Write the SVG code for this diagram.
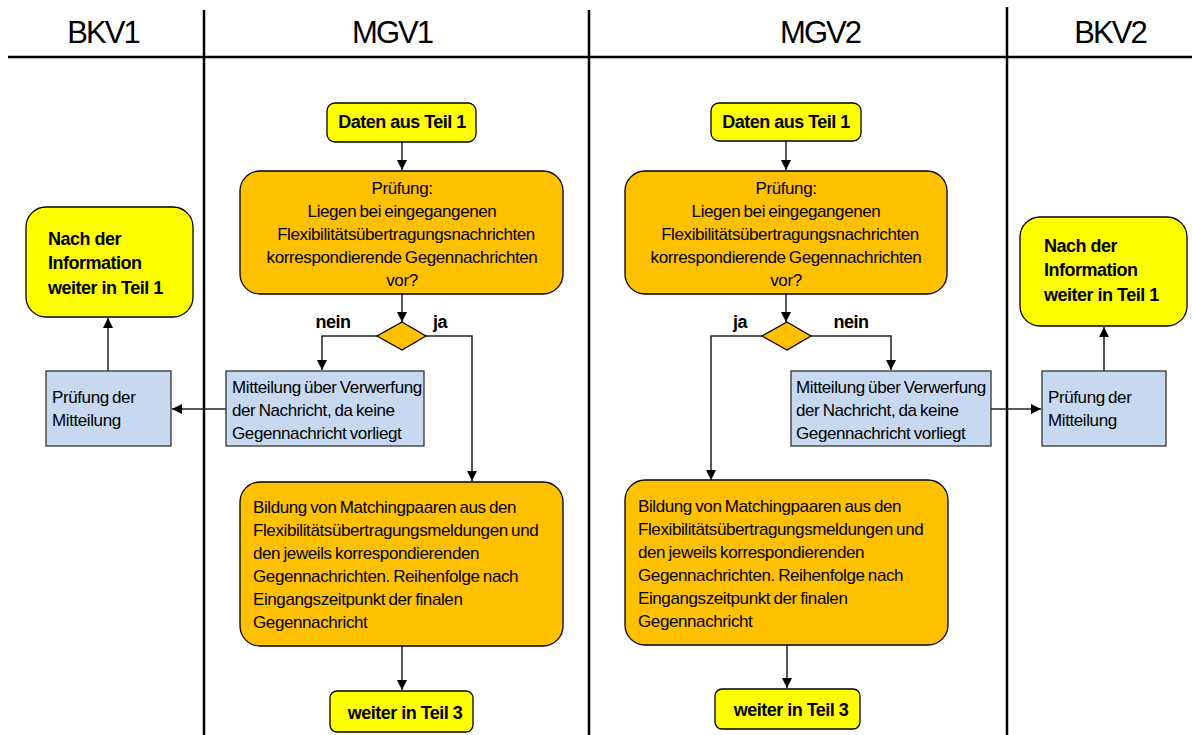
<svg xmlns="http://www.w3.org/2000/svg" width="1192" height="735" viewBox="0 0 1192 735">
<style>
.hd{font-family:"Liberation Sans",Arial,sans-serif;font-size:31px;letter-spacing:-2px;fill:#000;text-anchor:middle}
.t{font-family:"Liberation Sans",Arial,sans-serif;font-size:17px;letter-spacing:-0.4px;word-spacing:-1px;fill:#000}
.c{text-anchor:middle}
.b{font-family:"Liberation Sans",Arial,sans-serif;font-size:18px;letter-spacing:-0.5px;font-weight:bold;fill:#000}
.yel{fill:#FFFF00;stroke:#000;stroke-width:1.3}
.ora{fill:#FFC000;stroke:#000;stroke-width:1.3}
.blu{fill:#C6D9F1;stroke:#333;stroke-width:1.3}
.lane{stroke:#000;stroke-width:2.5;fill:none}
.con{stroke:#222;stroke-width:1.5;fill:none;marker-end:url(#ah)}
</style>
<defs>
<marker id="ah" viewBox="0 0 10 10" refX="10" refY="5" markerWidth="10" markerHeight="10" markerUnits="userSpaceOnUse" orient="auto">
<path d="M0,0 L10,5 L0,10 z" fill="#000"/>
</marker>
</defs>
<rect width="1192" height="735" fill="#fff"/>
<g id="lanes">
<line class="lane" x1="8" y1="57" x2="1192" y2="57" stroke-width="3"/>
<line class="lane" x1="204" y1="10" x2="204" y2="735"/>
<line class="lane" x1="589" y1="10" x2="589" y2="735"/>
<line class="lane" x1="1007" y1="7" x2="1007" y2="735"/>
<text class="hd" x="103" y="43">BKV1</text>
<text class="hd" x="392" y="43">MGV1</text>
<text class="hd" x="820" y="43">MGV2</text>
<text class="hd" x="1110" y="43">BKV2</text>
</g>
<g id="connectors">
<path class="con" d="M402,142 V170"/>
<path class="con" d="M402,294 V322"/>
<path class="con" d="M377,336 H322 V370"/>
<path class="con" d="M426,336 H472 V481"/>
<path class="con" d="M226,409 H172"/>
<path class="con" d="M108,371 V318"/>
<path class="con" d="M402,646 V690"/>
<path class="con" d="M786,141 V170"/>
<path class="con" d="M786,294 V322"/>
<path class="con" d="M762,336 H711 V480"/>
<path class="con" d="M811,336 H891 V370"/>
<path class="con" d="M991,409 H1041"/>
<path class="con" d="M1104,371 V327"/>
<path class="con" d="M787,645 V688"/>
<text class="b" x="333" y="328" text-anchor="middle" font-size="16">nein</text>
<text class="b" x="440" y="328" text-anchor="middle" font-size="16">ja</text>
<text class="b" x="740" y="328" text-anchor="middle" font-size="16">ja</text>
<text class="b" x="851" y="328" text-anchor="middle" font-size="16">nein</text>
</g>
<g id="mgv1-start">
<rect class="yel" x="327" y="103" width="149" height="39" rx="8"/>
<text class="b" x="402" y="128" text-anchor="middle">Daten aus Teil 1</text>
</g>
<g id="mgv1-pruefung">
<rect class="ora" x="240" y="171" width="323" height="123" rx="20"/>
<text class="t c" x="402" y="194">Prüfung:</text>
<text class="t c" x="402" y="217">Liegen bei eingegangenen</text>
<text class="t c" x="406" y="240">Flexibilitätsübertragungsnachrichten</text>
<text class="t c" x="402" y="263">korrespondierende Gegennachrichten</text>
<text class="t c" x="402" y="286">vor?</text>
</g>
<g id="mgv1-decision">
<polygon class="ora" points="402,322 426,336 402,350 377,336"/>
</g>
<g id="mgv1-mitteilung">
<rect class="blu" x="226" y="371" width="198" height="75"/>
<text class="t" x="232" y="393">Mitteilung über Verwerfung</text>
<text class="t" x="232" y="416">der Nachricht, da keine</text>
<text class="t" x="232" y="439">Gegennachricht vorliegt</text>
</g>
<g id="bkv1-pruefung">
<rect class="blu" x="46" y="371" width="125" height="75"/>
<text class="t" x="52" y="403">Prüfung der</text>
<text class="t" x="52" y="426">Mitteilung</text>
</g>
<g id="bkv1-end">
<rect class="yel" x="26" y="207" width="167" height="110" rx="20"/>
<text class="b" x="48" y="245">Nach der</text>
<text class="b" x="48" y="269">Information</text>
<text class="b" x="48" y="294">weiter in Teil 1</text>
</g>
<g id="mgv1-bildung">
<rect class="ora" x="240" y="482" width="323" height="164" rx="20"/>
<text class="t" x="253" y="513">Bildung von Matchingpaaren aus den</text>
<text class="t" x="253" y="536">Flexibilitätsübertragungsmeldungen und</text>
<text class="t" x="253" y="559">den jeweils korrespondierenden</text>
<text class="t" x="253" y="582">Gegennachrichten. Reihenfolge nach</text>
<text class="t" x="253" y="605">Eingangszeitpunkt der finalen</text>
<text class="t" x="253" y="628">Gegennachricht</text>
</g>
<g id="mgv1-end">
<rect class="yel" x="330" y="691" width="143" height="41" rx="7"/>
<text class="b" x="405" y="719" text-anchor="middle">weiter in Teil 3</text>
</g>
<g id="mgv2-start">
<rect class="yel" x="711" y="103" width="150" height="38" rx="8"/>
<text class="b" x="786" y="128" text-anchor="middle">Daten aus Teil 1</text>
</g>
<g id="mgv2-pruefung">
<rect class="ora" x="625" y="171" width="322" height="123" rx="20"/>
<text class="t c" x="786" y="194">Prüfung:</text>
<text class="t c" x="786" y="217">Liegen bei eingegangenen</text>
<text class="t c" x="790" y="240">Flexibilitätsübertragungsnachrichten</text>
<text class="t c" x="786" y="263">korrespondierende Gegennachrichten</text>
<text class="t c" x="786" y="286">vor?</text>
</g>
<g id="mgv2-decision">
<polygon class="ora" points="787,322 811,336 787,350 762,336"/>
</g>
<g id="mgv2-mitteilung">
<rect class="blu" x="791" y="371" width="200" height="75"/>
<text class="t" x="796" y="393">Mitteilung über Verwerfung</text>
<text class="t" x="796" y="416">der Nachricht, da keine</text>
<text class="t" x="796" y="439">Gegennachricht vorliegt</text>
</g>
<g id="bkv2-pruefung">
<rect class="blu" x="1042" y="371" width="124" height="75"/>
<text class="t" x="1048" y="403">Prüfung der</text>
<text class="t" x="1048" y="426">Mitteilung</text>
</g>
<g id="bkv2-end">
<rect class="yel" x="1020" y="217" width="167" height="109" rx="20"/>
<text class="b" x="1044" y="252">Nach der</text>
<text class="b" x="1044" y="276">Information</text>
<text class="b" x="1044" y="301">weiter in Teil 1</text>
</g>
<g id="mgv2-bildung">
<rect class="ora" x="625" y="480" width="323" height="165" rx="20"/>
<text class="t" x="638" y="512">Bildung von Matchingpaaren aus den</text>
<text class="t" x="638" y="535">Flexibilitätsübertragungsmeldungen und</text>
<text class="t" x="638" y="558">den jeweils korrespondierenden</text>
<text class="t" x="638" y="581">Gegennachrichten. Reihenfolge nach</text>
<text class="t" x="638" y="604">Eingangszeitpunkt der finalen</text>
<text class="t" x="638" y="627">Gegennachricht</text>
</g>
<g id="mgv2-end">
<rect class="yel" x="715" y="689" width="145" height="40" rx="7"/>
<text class="b" x="791" y="716" text-anchor="middle">weiter in Teil 3</text>
</g>
</svg>
